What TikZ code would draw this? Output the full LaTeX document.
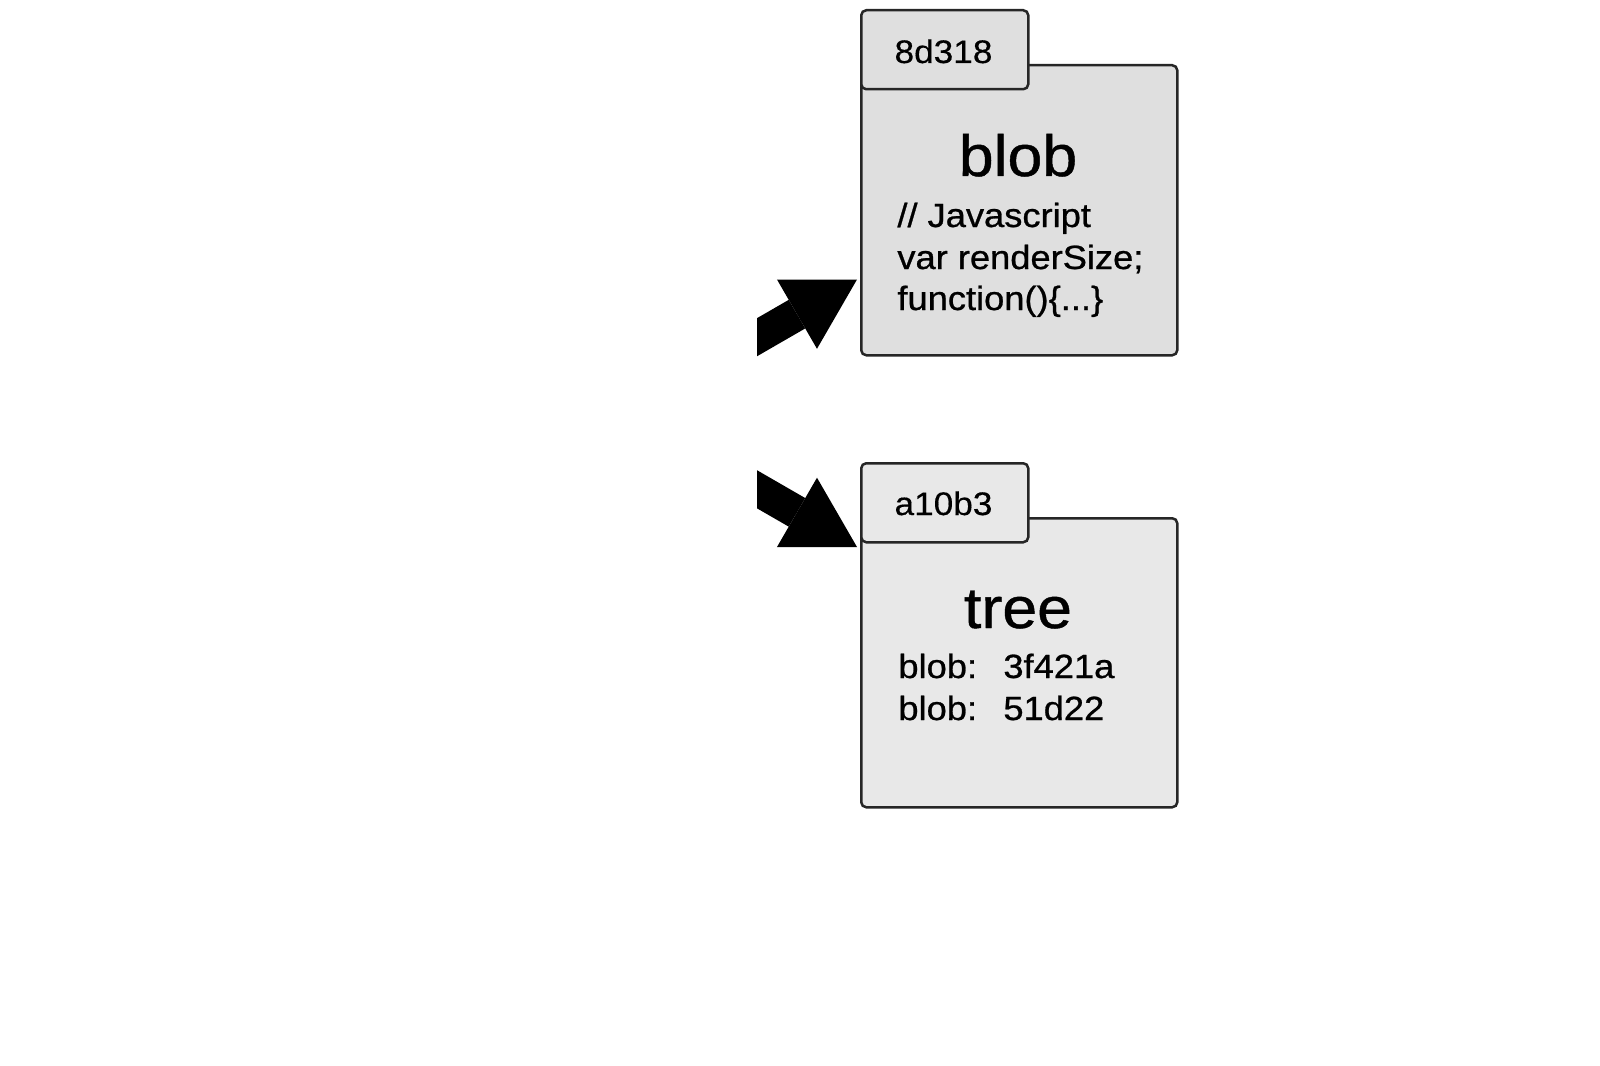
\documentclass[tikz,border=0pt]{standalone}
\usepackage{fontspec}
\setmainfont[FakeStretch=1.08]{Liberation Sans}
\usetikzlibrary{arrows.meta,calc}
\definecolor{boxline}{HTML}{262626}
\definecolor{blobfill}{HTML}{DFDFDF}
\definecolor{treefill}{HTML}{E8E8E8}
\begin{document}
\begin{tikzpicture}[x=0.5pt,y=-0.5pt,
  box/.style={draw=boxline, line width=1.25pt, rounded corners=2.5pt, inner sep=0pt, anchor=north west},
  mainbox/.style={box, minimum width=158pt, minimum height=145pt},
  tabbox/.style={box, minimum width=83.5pt, minimum height=39.5pt},
  idtext/.style={inner sep=0pt, anchor=base, font=\fontsize{16.3pt}{19pt}\selectfont\addfontfeature{FakeBold=0.4}},
  kindtext/.style={inner sep=0pt, anchor=base, font=\fontsize{29pt}{34pt}\selectfont\addfontfeature{FakeBold=0.8}},
  bodytext/.style={inner sep=0pt, anchor=base west, font=\fontsize{16.8pt}{21pt}\selectfont\addfontfeature{FakeBold=0.8}},
  bigarrow/.style={line width=16.5pt, -{Triangle[length=34.65pt, width=40pt, line width=0pt]}}]
\useasboundingbox (0,0) rectangle (1600,1065);

% blob object
\node[mainbox, fill=blobfill] (blobbox) at (860,64) {};
\node[tabbox, fill=blobfill] (blobtab) at (860,9) {};
\node[idtext] (blobid) at (943.5,63) {8d318};
\node[kindtext] (blobkind) at (1018,176) {blob};
\node[bodytext] (bl1) at (897,227) {// Javascript};
\node[bodytext] (bl2) at (897,269) {var renderSize;};
\node[bodytext] (bl3) at (897,310) {function()\{...\}};

% tree object
\node[mainbox, fill=treefill, minimum height=144.5pt] (treebox) at (860,517) {};
\node[tabbox, fill=treefill] (treetab) at (860,462) {};
\node[idtext] (treeid) at (943.5,515) {a10b3};
\node[kindtext] (treekind) at (1018,628) {tree};
\node[bodytext] (tl1) at (898,678) {\makebox[52.5pt][l]{blob:}3f421a};
\node[bodytext] (tl2) at (898,720) {\makebox[52.5pt][l]{blob:}51d22};

% arrows
\coordinate (e1) at ($(blobbox.south west)+(-3,-77)$);
\coordinate (s1) at ($(e1)+(-138.6,80)$);
\coordinate (e2) at ($(treebox.north west)+(-3,30)$);
\coordinate (s2) at ($(e2)+(-138.6,-80)$);
\begin{scope}
  \clip (757,0) rectangle (1600,1065);
  \draw[bigarrow] (s1) -- (e1);
  \draw[bigarrow] (s2) -- (e2);
\end{scope}
\end{tikzpicture}
\end{document}
